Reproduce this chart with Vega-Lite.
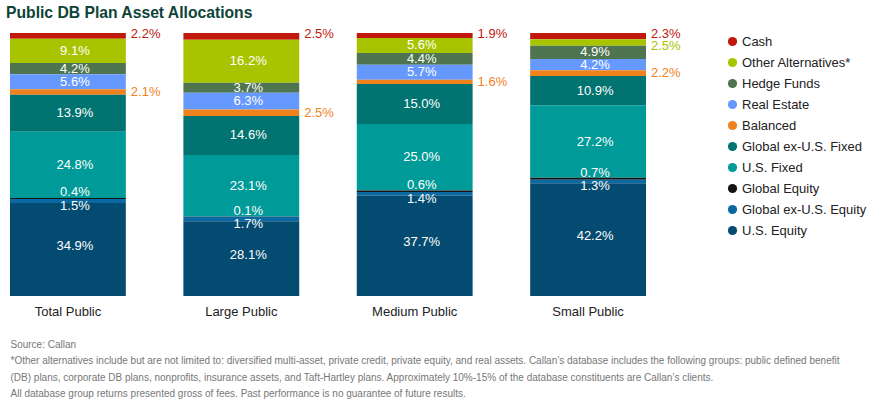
{
  "$schema": "https://vega.github.io/schema/vega-lite/v6.json",
  "width": 636,
  "height": 263,
  "autosize": {"type": "none"},
  "padding": {"left": 10, "top": 33, "right": 243, "bottom": 112},
  "config": {
    "view": {"stroke": null},
    "font": "Liberation Sans",
    "text": {"font": "Liberation Sans"}
  },
  "title": {
    "text": "Public DB Plan Asset Allocations",
    "anchor": "start",
    "frame": "group",
    "fontSize": 15.7,
    "fontWeight": "bold",
    "font": "Liberation Sans",
    "color": "#0d4437",
    "dx": -4,
    "offset": 6
  },
  "data": {
    "values": [
      {"group": "Total Public", "category": "Cash", "value": 2.2},
      {"group": "Total Public", "category": "Other Alternatives*", "value": 9.1},
      {"group": "Total Public", "category": "Hedge Funds", "value": 4.2},
      {"group": "Total Public", "category": "Real Estate", "value": 5.6},
      {"group": "Total Public", "category": "Balanced", "value": 2.1},
      {"group": "Total Public", "category": "Global ex-U.S. Fixed", "value": 13.9},
      {"group": "Total Public", "category": "U.S. Fixed", "value": 24.8},
      {"group": "Total Public", "category": "Global Equity", "value": 0.4},
      {"group": "Total Public", "category": "Global ex-U.S. Equity", "value": 1.5},
      {"group": "Total Public", "category": "U.S. Equity", "value": 34.9},
      {"group": "Large Public", "category": "Cash", "value": 2.5},
      {"group": "Large Public", "category": "Other Alternatives*", "value": 16.2},
      {"group": "Large Public", "category": "Hedge Funds", "value": 3.7},
      {"group": "Large Public", "category": "Real Estate", "value": 6.3},
      {"group": "Large Public", "category": "Balanced", "value": 2.5},
      {"group": "Large Public", "category": "Global ex-U.S. Fixed", "value": 14.6},
      {"group": "Large Public", "category": "U.S. Fixed", "value": 23.1},
      {"group": "Large Public", "category": "Global Equity", "value": 0.1},
      {"group": "Large Public", "category": "Global ex-U.S. Equity", "value": 1.7},
      {"group": "Large Public", "category": "U.S. Equity", "value": 28.1},
      {"group": "Medium Public", "category": "Cash", "value": 1.9},
      {"group": "Medium Public", "category": "Other Alternatives*", "value": 5.6},
      {"group": "Medium Public", "category": "Hedge Funds", "value": 4.4},
      {"group": "Medium Public", "category": "Real Estate", "value": 5.7},
      {"group": "Medium Public", "category": "Balanced", "value": 1.6},
      {"group": "Medium Public", "category": "Global ex-U.S. Fixed", "value": 15.0},
      {"group": "Medium Public", "category": "U.S. Fixed", "value": 25.0},
      {"group": "Medium Public", "category": "Global Equity", "value": 0.6},
      {"group": "Medium Public", "category": "Global ex-U.S. Equity", "value": 1.4},
      {"group": "Medium Public", "category": "U.S. Equity", "value": 37.7},
      {"group": "Small Public", "category": "Cash", "value": 2.3},
      {"group": "Small Public", "category": "Other Alternatives*", "value": 2.5},
      {"group": "Small Public", "category": "Hedge Funds", "value": 4.9},
      {"group": "Small Public", "category": "Real Estate", "value": 4.2},
      {"group": "Small Public", "category": "Balanced", "value": 2.2},
      {"group": "Small Public", "category": "Global ex-U.S. Fixed", "value": 10.9},
      {"group": "Small Public", "category": "U.S. Fixed", "value": 27.2},
      {"group": "Small Public", "category": "Global Equity", "value": 0.7},
      {"group": "Small Public", "category": "Global ex-U.S. Equity", "value": 1.3},
      {"group": "Small Public", "category": "U.S. Equity", "value": 42.2}
    ]
  },
  "transform": [
    {"calculate": "indexof(['U.S. Equity','Global ex-U.S. Equity','Global Equity','U.S. Fixed','Global ex-U.S. Fixed','Balanced','Real Estate','Hedge Funds','Other Alternatives*','Cash'], datum.category)", "as": "ord"},
    {"stack": "value", "groupby": ["group"], "sort": [{"field": "ord", "order": "ascending"}], "offset": "normalize", "as": ["y0", "y1"]},
    {"calculate": "(datum.y0 + datum.y1) / 2", "as": "mid"},
    {"calculate": "format(datum.value, '.1f') + '%'", "as": "label"}
  ],
  "encoding": {
    "x": {
      "field": "group",
      "type": "nominal",
      "sort": ["Total Public", "Large Public", "Medium Public", "Small Public"],
      "scale": {"paddingInner": 0.332, "paddingOuter": 0},
      "axis": {
        "labelAngle": 0,
        "domain": false,
        "ticks": false,
        "labelFontSize": 13,
        "labelColor": "#222222",
        "labelFont": "Liberation Sans",
        "labelPadding": 9,
        "title": ["Source: Callan", "*Other alternatives include but are not limited to: diversified multi-asset, private credit, private equity, and real assets. Callan’s database includes the following groups: public defined benefit", "(DB) plans, corporate DB plans, nonprofits, insurance assets, and Taft-Hartley plans. Approximately 10%-15% of the database constituents are Callan’s clients.", "All database group returns presented gross of fees. Past performance is no guarantee of future results."],
        "titleFont": "Liberation Sans",
        "titleFontSize": 10,
        "titleFontWeight": "normal",
        "titleColor": "#777777",
        "titleAnchor": "start",
        "titleAlign": "left",
        "titleBaseline": "top",
        "titleLineHeight": 16.5,
        "titleX": 0,
        "titleY": 43
      }
    }
  },
  "layer": [
    {
      "mark": {"type": "bar"},
      "encoding": {
        "y": {"field": "y0", "type": "quantitative", "scale": {"domain": [0, 1], "nice": false, "zero": true}, "axis": null},
        "y2": {"field": "y1"},
        "color": {
          "field": "category",
          "type": "nominal",
          "scale": {
            "domain": ["Cash", "Other Alternatives*", "Hedge Funds", "Real Estate", "Balanced", "Global ex-U.S. Fixed", "U.S. Fixed", "Global Equity", "Global ex-U.S. Equity", "U.S. Equity"],
            "range": ["#c0180c", "#a8c400", "#4e7450", "#6699ff", "#f0821e", "#017370", "#009a98", "#141414", "#0c68a0", "#034b70"]
          },
          "legend": {
            "title": null,
            "orient": "right",
            "offset": 78,
            "symbolType": "circle",
            "symbolSize": 85,
            "symbolStrokeWidth": 0,
            "labelFontSize": 13,
            "labelFont": "Liberation Sans",
            "labelColor": "#222222",
            "labelOffset": 3,
            "rowPadding": 7,
            "padding": 2
          }
        }
      }
    },
    {
      "transform": [{"filter": "indexof(['Cash','Balanced','Global Equity','Global ex-U.S. Equity','U.S. Equity'], datum.category) < 0 && !(datum.category == 'Other Alternatives*' && datum.value < 3)"}],
      "mark": {"type": "text", "color": "white", "fontSize": 13, "dx": 7, "baseline": "middle"},
      "encoding": {
        "y": {"field": "mid", "type": "quantitative"},
        "text": {"field": "label"}
      }
    },
    {
      "transform": [{"filter": "datum.category == 'Global Equity'"}],
      "mark": {"type": "text", "color": "white", "fontSize": 13, "dx": 7, "dy": -6, "baseline": "middle"},
      "encoding": {
        "y": {"field": "mid", "type": "quantitative"},
        "text": {"field": "label"}
      }
    },
    {
      "transform": [{"filter": "datum.category == 'Global ex-U.S. Equity'"}],
      "mark": {"type": "text", "color": "white", "fontSize": 13, "dx": 7, "dy": 5, "baseline": "middle"},
      "encoding": {
        "y": {"field": "mid", "type": "quantitative"},
        "text": {"field": "label"}
      }
    },
    {
      "transform": [{"filter": "datum.category == 'U.S. Equity'"}],
      "mark": {"type": "text", "color": "white", "fontSize": 13, "dx": 7, "dy": -4, "baseline": "middle"},
      "encoding": {
        "y": {"field": "mid", "type": "quantitative"},
        "text": {"field": "label"}
      }
    },
    {
      "transform": [{"filter": "datum.category == 'Cash'"}],
      "mark": {"type": "text", "fontSize": 13, "align": "left", "dx": 5, "dy": -2, "baseline": "middle"},
      "encoding": {
        "x": {"field": "group", "type": "nominal", "sort": ["Total Public", "Large Public", "Medium Public", "Small Public"], "bandPosition": 1},
        "y": {"field": "mid", "type": "quantitative"},
        "text": {"field": "label"},
        "color": {"field": "category", "type": "nominal", "legend": null}
      }
    },
    {
      "transform": [{"filter": "datum.category == 'Balanced'"}],
      "mark": {"type": "text", "fontSize": 13, "align": "left", "dx": 5, "dy": 0, "baseline": "middle"},
      "encoding": {
        "x": {"field": "group", "type": "nominal", "sort": ["Total Public", "Large Public", "Medium Public", "Small Public"], "bandPosition": 1},
        "y": {"field": "mid", "type": "quantitative"},
        "text": {"field": "label"},
        "color": {"field": "category", "type": "nominal", "legend": null}
      }
    },
    {
      "transform": [{"filter": "datum.category == 'Other Alternatives*' && datum.value < 3"}],
      "mark": {"type": "text", "fontSize": 13, "align": "left", "dx": 5, "dy": 4, "baseline": "middle"},
      "encoding": {
        "x": {"field": "group", "type": "nominal", "sort": ["Total Public", "Large Public", "Medium Public", "Small Public"], "bandPosition": 1},
        "y": {"field": "mid", "type": "quantitative"},
        "text": {"field": "label"},
        "color": {"field": "category", "type": "nominal", "legend": null}
      }
    }
  ]
}
